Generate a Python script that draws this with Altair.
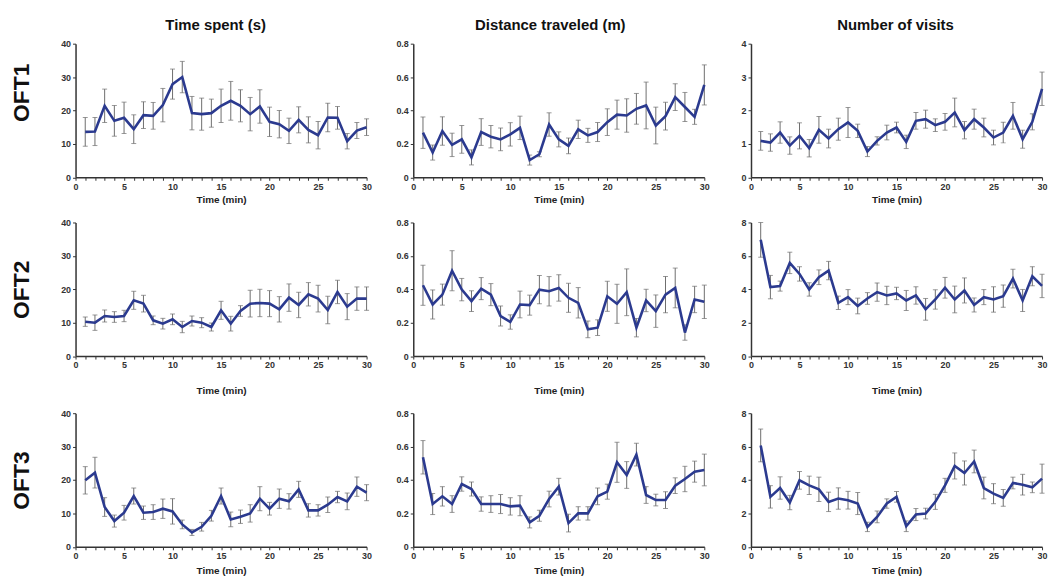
import altair as alt
import pandas as pd

minutes = list(range(1, 31))

row_names = ["OFT1", "OFT2", "OFT3"]
col_titles = ["Time spent (s)", "Distance traveled (m)", "Number of visits"]
x_ticks = list(range(0, 31))

# OFT1
time_oft1 = [13.6, 13.7, 21.4, 16.9, 17.8, 14.4, 18.6, 18.4, 21.6, 27.9, 30.0, 19.2, 18.9, 19.2, 21.4,
             22.9, 21.4, 18.9, 21.2, 16.6, 15.9, 13.9, 17.2, 14.2, 12.6, 17.9, 17.8, 10.8, 14.0, 15.0]
time_oft1_sem = [4.3, 4.2, 5.0, 4.6, 4.7, 4.3, 4.0, 4.0, 5.0, 4.5, 4.7, 5.0, 4.8, 4.2, 5.0,
                 5.8, 4.8, 5.0, 5.0, 4.4, 4.1, 3.8, 3.9, 3.9, 4.1, 4.3, 3.4, 2.3, 2.4, 2.5]
dist_oft1 = [0.267, 0.148, 0.277, 0.194, 0.227, 0.119, 0.271, 0.243, 0.227, 0.257, 0.296, 0.103, 0.138, 0.316, 0.227,
             0.188, 0.287, 0.251, 0.271, 0.33, 0.375, 0.37, 0.41, 0.43, 0.31, 0.366, 0.48, 0.421, 0.362, 0.553]
dist_oft1_sem = [0.094, 0.045, 0.085, 0.07, 0.083, 0.045, 0.08, 0.067, 0.068, 0.07, 0.07, 0.03, 0.015, 0.07, 0.045,
                 0.047, 0.055, 0.042, 0.057, 0.08, 0.087, 0.1, 0.092, 0.14, 0.11, 0.083, 0.08, 0.087, 0.045, 0.12]
visits_oft1 = [1.09, 1.04, 1.34, 0.95, 1.24, 0.87, 1.42, 1.16, 1.44, 1.64, 1.39, 0.77, 1.09, 1.34, 1.49,
               1.06, 1.69, 1.74, 1.56, 1.66, 1.94, 1.41, 1.74, 1.49, 1.19, 1.34, 1.84, 1.14, 1.66, 2.65]
visits_oft1_sem = [0.28, 0.26, 0.32, 0.26, 0.39, 0.26, 0.4, 0.28, 0.33, 0.45, 0.2, 0.15, 0.12, 0.22, 0.16,
                   0.2, 0.25, 0.27, 0.19, 0.25, 0.43, 0.26, 0.3, 0.28, 0.22, 0.31, 0.4, 0.27, 0.24, 0.5]

# OFT2
time_oft2 = [10.3, 10.0, 12.0, 11.7, 12.0, 16.7, 15.7, 10.7, 9.7, 11.0, 8.7, 10.5, 10.0, 8.7, 13.7,
             9.7, 13.5, 15.7, 15.9, 15.7, 14.0, 17.5, 15.3, 18.5, 17.2, 13.8, 19.2, 14.8, 17.2, 17.2]
time_oft2_sem = [1.4, 2.3, 1.8, 1.6, 1.7, 2.7, 2.5, 1.3, 1.6, 1.6, 1.7, 1.5, 1.5, 1.2, 2.7,
                 2.2, 1.6, 4.0, 4.1, 3.9, 3.8, 4.1, 3.8, 3.5, 4.0, 4.1, 3.5, 3.9, 3.5, 3.5]
dist_oft2 = [0.424, 0.309, 0.368, 0.511, 0.398, 0.329, 0.404, 0.368, 0.24, 0.204, 0.309, 0.305, 0.398, 0.388, 0.408,
             0.349, 0.319, 0.16, 0.17, 0.358, 0.313, 0.382, 0.17, 0.333, 0.269, 0.368, 0.408, 0.141, 0.339, 0.325]
dist_oft2_sem = [0.12, 0.087, 0.063, 0.12, 0.067, 0.062, 0.066, 0.066, 0.06, 0.043, 0.08, 0.06, 0.085, 0.088, 0.079,
                 0.087, 0.091, 0.05, 0.047, 0.09, 0.117, 0.14, 0.055, 0.067, 0.097, 0.109, 0.119, 0.046, 0.079, 0.1]
visits_oft2 = [6.96, 4.13, 4.19, 5.58, 4.92, 3.99, 4.72, 5.12, 3.19, 3.53, 3.0, 3.45, 3.83, 3.63, 3.75,
               3.33, 3.63, 2.8, 3.39, 4.09, 3.39, 3.93, 3.06, 3.53, 3.39, 3.59, 4.64, 3.33, 4.78, 4.2]
visits_oft2_sem = [1.04, 0.7, 0.3, 0.64, 0.43, 0.4, 0.44, 0.55, 0.4, 0.45, 0.47, 0.35, 0.55, 0.55, 0.37,
                   0.6, 0.52, 0.65, 0.58, 0.62, 0.8, 0.75, 0.42, 0.45, 0.76, 0.67, 0.56, 0.66, 0.57, 0.7]

# OFT3
time_oft3 = [19.9, 22.2, 11.9, 7.7, 10.2, 15.2, 10.2, 10.4, 11.4, 10.6, 6.7, 4.3, 6.0, 9.3, 15.2,
             8.2, 9.0, 10.0, 14.4, 11.4, 14.4, 13.6, 17.2, 10.9, 10.9, 12.6, 14.9, 13.6, 18.0, 16.2]
time_oft3_sem = [4.1, 4.6, 2.8, 1.8, 2.2, 2.4, 2.0, 2.2, 2.9, 3.8, 1.3, 0.9, 1.3, 1.6, 2.4,
                 2.2, 2.0, 2.6, 3.6, 1.9, 2.9, 2.3, 2.4, 2.0, 1.7, 2.3, 1.7, 2.5, 2.9, 2.4]
dist_oft3 = [0.536, 0.256, 0.302, 0.256, 0.376, 0.346, 0.256, 0.256, 0.256, 0.242, 0.246, 0.146, 0.186, 0.286, 0.36,
             0.142, 0.2, 0.2, 0.302, 0.33, 0.506, 0.43, 0.552, 0.31, 0.28, 0.28, 0.366, 0.406, 0.45, 0.46]
dist_oft3_sem = [0.1, 0.063, 0.058, 0.05, 0.043, 0.042, 0.043, 0.05, 0.057, 0.052, 0.06, 0.033, 0.033, 0.047, 0.05,
                 0.053, 0.04, 0.04, 0.05, 0.045, 0.12, 0.08, 0.068, 0.05, 0.035, 0.05, 0.047, 0.076, 0.063, 0.095]
visits_oft3 = [6.07, 2.99, 3.52, 2.65, 3.98, 3.68, 3.44, 2.69, 2.89, 2.79, 2.59, 1.19, 1.79, 2.59, 2.99,
               1.23, 1.93, 1.99, 2.69, 3.68, 4.84, 4.42, 5.11, 3.52, 3.18, 2.93, 3.82, 3.72, 3.56, 4.08]
visits_oft3_sem = [0.98, 0.67, 0.67, 0.43, 0.53, 0.55, 0.73, 0.58, 0.64, 0.53, 0.66, 0.28, 0.35, 0.28, 0.32,
                   0.32, 0.36, 0.32, 0.45, 0.42, 0.78, 0.72, 0.68, 0.65, 0.6, 0.5, 0.35, 0.62, 0.32, 0.87]

series = [
    [(time_oft1, time_oft1_sem), (dist_oft1, dist_oft1_sem), (visits_oft1, visits_oft1_sem)],
    [(time_oft2, time_oft2_sem), (dist_oft2, dist_oft2_sem), (visits_oft2, visits_oft2_sem)],
    [(time_oft3, time_oft3_sem), (dist_oft3, dist_oft3_sem), (visits_oft3, visits_oft3_sem)],
]

y_ticks = [
    [[0, 10, 20, 30, 40], [0, 0.2, 0.4, 0.6, 0.8], [0, 1, 2, 3, 4]],
    [[0, 10, 20, 30, 40], [0, 0.2, 0.4, 0.6, 0.8], [0, 2, 4, 6, 8]],
    [[0, 10, 20, 30, 40], [0, 0.2, 0.4, 0.6, 0.8], [0, 2, 4, 6, 8]],
]

LINE = "#2b3a8f"
BAR = "#6e6e6e"
AX = "#333333"
FONT = "Liberation Sans"

W, H = 293, 134.5
x_title_pad = [3, 15.5, 5]
title_dx = [-5.5, -8.5, -1]


def panel(r, c):
    means, sems = series[r][c]
    df = pd.DataFrame({
        "minute": minutes,
        "mean": means,
        "lo": [m - s for m, s in zip(means, sems)],
        "hi": [m + s for m, s in zip(means, sems)],
    })
    ticks = y_ticks[r][c]
    yscale = alt.Scale(domain=[ticks[0], ticks[-1]], nice=False)
    common = dict(grid=False, domainColor=AX, domainWidth=1.5, tickColor=AX, tickSize=3,
                  tickWidth=1, labelFont=FONT, labelFontSize=9, labelFontWeight="bold",
                  labelColor=AX, labelPadding=2)
    if c == 0:
        extra = dict(title=row_names[r], titleFont=FONT, titleFontSize=23,
                     titleFontWeight="bold", titleColor="#111111", titlePadding=18,
                     minExtent=24, maxExtent=24)
        if r == 0:
            extra["titleY"] = 49
        yaxis = alt.Axis(values=ticks, format="~f", **common, **extra)
    else:
        yaxis = alt.Axis(values=ticks, format="~f", title=None, **common)
    xaxis = alt.Axis(values=x_ticks, labelExpr="datum.value % 5 === 0 ? datum.label : ''",
                     title="Time (min)", titleFont=FONT, titleFontSize=10, titleFontWeight="bold",
                     titleColor="#222222", titlePadding=x_title_pad[r], labelFlush=False,
                     labelOverlap=False, **common)
    xenc = alt.X("minute:Q", scale=alt.Scale(domain=[0, 30], nice=False), axis=xaxis)

    base = alt.Chart(df)
    rules = base.mark_rule(color=BAR, strokeWidth=1).encode(
        x=xenc, y=alt.Y("lo:Q", scale=yscale, axis=yaxis), y2="hi:Q")
    cap_hi = base.mark_tick(orient="horizontal", color=BAR, size=5, thickness=1).encode(
        x=xenc, y=alt.Y("hi:Q", scale=yscale, axis=yaxis))
    cap_lo = base.mark_tick(orient="horizontal", color=BAR, size=5, thickness=1).encode(
        x=xenc, y=alt.Y("lo:Q", scale=yscale, axis=yaxis))
    line = base.mark_line(color=LINE, strokeWidth=2.6).encode(
        x=xenc, y=alt.Y("mean:Q", scale=yscale, axis=yaxis))
    ch = alt.layer(rules, cap_lo, cap_hi, line).properties(width=W, height=H)
    if r == 0:
        ch = ch.properties(title=alt.TitleParams(col_titles[c], fontSize=15, font=FONT,
                                                 fontWeight="bold", color="#111111", offset=7,
                                                 frame="group", anchor="middle", dx=title_dx[c]))
    return ch


rows = [alt.hconcat(*[panel(r, c) for c in range(3)], spacing=47, bounds="flush") for r in range(3)]
chart = alt.vconcat(*rows, spacing=14, bounds="full").properties(
    padding={"left": 3, "top": 8, "right": 0, "bottom": 0},
    background="white",
).configure_view(stroke=None)

chart.save("out.html", embed_options={"renderer": "svg", "actions": False})
